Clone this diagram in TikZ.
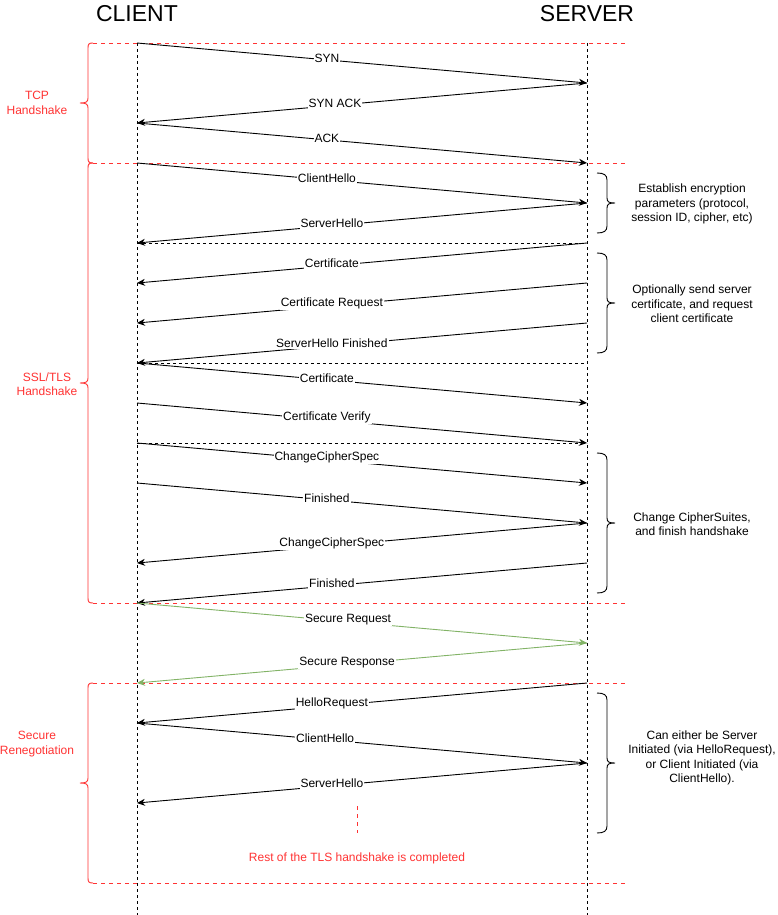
\documentclass[tikz,border=0pt]{standalone}
\usepackage{fontspec}
\setmainfont{Liberation Sans}
\usetikzlibrary{arrows.meta}
\definecolor{rd}{HTML}{FF3333}
\definecolor{gn}{HTML}{82B366}
\newcommand\myleftbrk[3]{%
  \draw[rd,brk] (93,#1) .. controls (89,#1) and (88,#1+1) .. (88,#1+5) -- (88,#3-5)
    .. controls (88,#3-1) and (86,#3) .. (80,#3)
    .. controls (86,#3) and (88,#3+1) .. (88,#3+5) -- (88,#2-5)
    .. controls (88,#2-1) and (89,#2) .. (93,#2);}
\newcommand\myrightbrk[3]{%
  \draw[brk] (597,#1) .. controls (604,#1) and (607,#1+2) .. (607,#1+7) -- (607,#3-5)
    .. controls (607,#3-1) and (609,#3) .. (615,#3)
    .. controls (609,#3) and (607,#3+1) .. (607,#3+5) -- (607,#2-7)
    .. controls (607,#2-2) and (604,#2) .. (597,#2);}
\begin{document}
\begin{tikzpicture}[x=1pt,y=-1pt,
  life/.style={dash pattern=on 3pt off 3pt, line width=0.9pt},
  sep/.style={dash pattern=on 3pt off 3pt, line width=0.8pt},
  rsep/.style={rd, dash pattern=on 4pt off 4pt, line width=0.8pt},
  brk/.style={line width=0.9pt},
  msg/.style={line width=0.9pt, -{Stealth[length=8pt,width=7pt,inset=2.5pt]}},
  gmsg/.style={msg, gn},
  lbl/.style={fill=white, inner sep=1pt, font=\fontsize{12}{14}\selectfont, yshift=2pt},
  note/.style={align=center, inner sep=0pt, font=\fontsize{12}{14.5}\selectfont},
  rnote/.style={note, text=rd},
  title/.style={font=\fontsize{23}{26}\selectfont, inner sep=0pt}
]
\useasboundingbox (0,0) rectangle (778,915);
\fill[white] (0,0) rectangle (778,915);

\foreach \y in {43,83,...,883}{
  \coordinate (C\y) at (137,\y);
  \coordinate (S\y) at (587,\y);
}
\coordinate (Cbot) at (137,915);
\coordinate (Sbot) at (587,915);

% titles
\node[title] (client) at (137,14) {CLIENT};
\node[title] (server) at (587,14) {SERVER};

% lifelines
\draw[life] (C43) -- (Cbot);
\draw[life] (S43) -- (Sbot);

% red separators
\foreach \y in {43,163,603,683,883}{
  \coordinate (RL\y) at (93,\y);
  \coordinate (RR\y) at (627,\y);
  \draw[rsep] (RL\y) -- (RR\y);
}
% black separators
\foreach \y in {243,363,443}{
  \draw[sep] (C\y) -- (S\y);
}

% left braces and labels
\myleftbrk{43}{163}{103}
\myleftbrk{163}{603}{383}
\myleftbrk{683}{883}{783}
\node[rnote] (tcp) at (37,103) {TCP\\Handshake};
\node[rnote] (ssl) at (47,384) {SSL/TLS\\Handshake};
\node[rnote] (reneg) at (37,744) {Secure\\Renegotiation};

% right braces and notes
\myrightbrk{173}{233}{203}
\myrightbrk{253}{353}{303}
\myrightbrk{453}{593}{523}
\myrightbrk{693}{833}{763}
\node[note] (n1) at (692,204) {Establish encryption\\parameters (protocol,\\session ID, cipher, etc)};
\node[note] (n2) at (692,304) {Optionally send server\\certificate, and request\\client certificate};
\node[note] (n3) at (692,524) {Change CipherSuites,\\and finish handshake};
\node[note] (n4) at (702,758) {Can either be Server\\Initiated (via HelloRequest),\\or Client Initiated (via\\ClientHello).};

% messages
\draw[msg] (C43) -- node[lbl,pos=.422] (m1) {SYN} (S83);
\draw[msg] (S83) -- node[lbl,pos=.56] (m2) {SYN ACK} (C123);
\draw[msg] (C123) -- node[lbl,pos=.422] (m3) {ACK} (S163);
\draw[msg] (C163) -- node[lbl,pos=.422] (m4) {ClientHello} (S203);
\draw[msg] (S203) -- node[lbl,pos=.567] (m5) {ServerHello} (C243);
\draw[msg] (S243) -- node[lbl,pos=.567] (m6) {Certificate} (C283);
\draw[msg] (S283) -- node[lbl,pos=.567] (m7) {Certificate Request} (C323);
\draw[msg] (S323) -- node[lbl,pos=.567] (m8) {ServerHello Finished} (C363);
\draw[msg] (C363) -- node[lbl,pos=.422] (m9) {Certificate} (S403);
\draw[msg] (C403) -- node[lbl,pos=.422] (m10) {Certificate Verify} (S443);
\draw[msg] (C443) -- node[lbl,pos=.422] (m11) {ChangeCipherSpec} (S483);
\draw[msg] (C483) -- node[lbl,pos=.422] (m12) {Finished} (S523);
\draw[msg] (S523) -- node[lbl,pos=.567] (m13) {ChangeCipherSpec} (C563);
\draw[msg] (S563) -- node[lbl,pos=.567] (m14) {Finished} (C603);
\draw[gmsg] (C603) -- node[lbl,pos=.469,text=black] (m15) {Secure Request} (S643);
\draw[gmsg] (S643) -- node[lbl,pos=.533,text=black] (m16) {Secure Response} (C683);
\draw[msg] (S683) -- node[lbl,pos=.567] (m17) {HelloRequest} (C723);
\draw[msg] (C723) -- node[lbl,pos=.418] (m18) {ClientHello} (S763);
\draw[msg] (S763) -- node[lbl,pos=.567] (m19) {ServerHello} (C803);

% rest of handshake
\coordinate (rt) at (357,806);
\coordinate (rb) at (357,833);
\draw[rd, dash pattern=on 4pt off 4pt, line width=0.8pt] (rt) -- (rb);
\node[rnote] (rest) at (357,858) {Rest of the TLS handshake is completed};
\end{tikzpicture}
\end{document}
